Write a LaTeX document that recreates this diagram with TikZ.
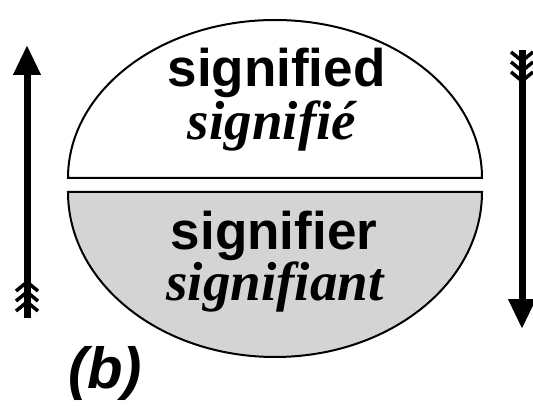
\documentclass[tikz,border=0pt]{standalone}
\usepackage{fontspec}
\setmainfont{Liberation Serif}
\setsansfont{Liberation Sans}
\usetikzlibrary{arrows.meta}
\definecolor{lowfill}{gray}{0.83}
\tikzset{
  halfshape/.style={draw=black,line width=2pt},
  sanslabel/.style={font=\sffamily\bfseries\fontsize{53}{53}\selectfont,inner sep=0pt,anchor=base},
  seriflabel/.style={font=\rmfamily\bfseries\itshape\fontsize{55}{55}\selectfont,inner sep=0pt,anchor=base},
  bigarrow/.style={line width=7pt,-{Triangle[length=30pt,width=26pt]}},
  fletch/.style={line width=3.5pt,line cap=butt,line join=miter}
}
\begin{document}
\begin{tikzpicture}[x=1pt,y=-1pt]
\useasboundingbox (0,0) rectangle (533,406);
% upper half
\draw[halfshape,fill=white] (68,178) arc[start angle=180,end angle=360,x radius=207,y radius=158] -- cycle;
% lower half
\draw[halfshape,fill=lowfill] (68,192) arc[start angle=180,end angle=0,x radius=207,y radius=165] -- cycle;
\node[sanslabel] (sd) at (276.5,87) {signified};
\node[seriflabel] (sdf) at (272,140) {signifié};
\node[sanslabel] (sr) at (274,250) {signifier};
\node[seriflabel] (srf) at (275,300) {signifiant};
\node[font=\sffamily\bfseries\itshape\fontsize{58}{58}\selectfont,inner sep=0pt,anchor=base west] (b) at (68,388) {(b)};
% left arrow (up)
\coordinate (lt) at (27,318);
\coordinate (lh) at (27,45);
\draw[bigarrow] (lt) -- (lh);
\foreach \yy in {291,301,311}{
  \draw[fletch] ([xshift=-11pt,yshift=-\yy+318]lt) -- ++(11,-9) -- ++(11,9);
}
% right arrow (down)
\coordinate (rt) at (522,50);
\coordinate (rh) at (522,329);
\draw[bigarrow] (rt) -- (rh);
\foreach \yy in {52,62,72}{
  \draw[fletch] ([xshift=-11pt,yshift=-\yy+50]rt) -- ++(11,9) -- ++(11,-9);
}
\end{tikzpicture}
\end{document}
